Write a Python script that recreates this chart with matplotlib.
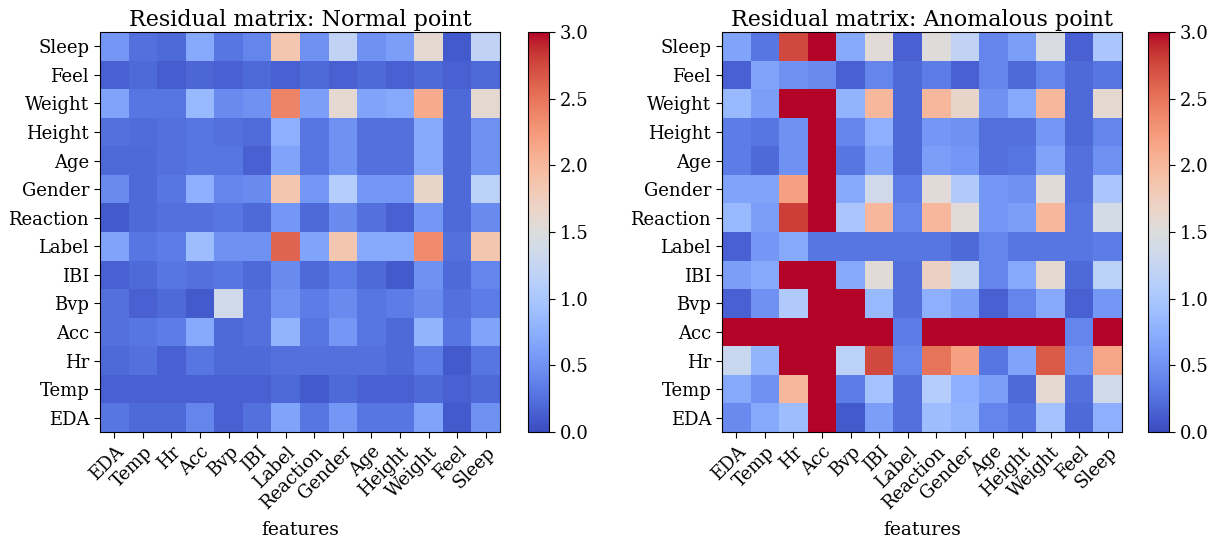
import numpy as np
import matplotlib
matplotlib.use("Agg")
import matplotlib.pyplot as plt

plt.rcParams["font.family"] = "DejaVu Serif"

row_labels = ["Sleep", "Feel", "Weight", "Height", "Age", "Gender", "Reaction",
              "Label", "IBI", "Bvp", "Acc", "Hr", "Temp", "EDA"]
col_labels = ["EDA", "Temp", "Hr", "Acc", "Bvp", "IBI", "Label", "Reaction",
              "Gender", "Age", "Height", "Weight", "Feel", "Sleep"]

normal = np.array([
    [0.55, 0.25, 0.2, 0.7, 0.3, 0.4, 1.85, 0.5, 1.2, 0.5, 0.6, 1.6, 0.1, 1.2],
    [0.15, 0.2, 0.12, 0.18, 0.15, 0.2, 0.15, 0.2, 0.15, 0.2, 0.15, 0.2, 0.15, 0.2],
    [0.65, 0.3, 0.3, 0.85, 0.45, 0.5, 2.4, 0.6, 1.6, 0.65, 0.7, 2.1, 0.2, 1.6],
    [0.25, 0.22, 0.25, 0.3, 0.25, 0.22, 0.75, 0.3, 0.5, 0.25, 0.25, 0.7, 0.2, 0.5],
    [0.2, 0.2, 0.25, 0.3, 0.3, 0.15, 0.65, 0.3, 0.5, 0.25, 0.25, 0.7, 0.2, 0.5],
    [0.45, 0.2, 0.3, 0.75, 0.4, 0.45, 1.85, 0.55, 1.1, 0.55, 0.55, 1.65, 0.2, 1.15],
    [0.1, 0.2, 0.25, 0.25, 0.3, 0.2, 0.55, 0.2, 0.45, 0.25, 0.15, 0.55, 0.2, 0.45],
    [0.65, 0.3, 0.35, 0.9, 0.5, 0.5, 2.6, 0.65, 1.85, 0.7, 0.7, 2.35, 0.25, 1.85],
    [0.15, 0.2, 0.3, 0.25, 0.3, 0.2, 0.45, 0.2, 0.35, 0.2, 0.1, 0.5, 0.2, 0.4],
    [0.25, 0.15, 0.2, 0.1, 1.35, 0.25, 0.5, 0.35, 0.45, 0.3, 0.35, 0.45, 0.25, 0.35],
    [0.25, 0.3, 0.35, 0.7, 0.2, 0.25, 0.8, 0.3, 0.55, 0.3, 0.2, 0.8, 0.3, 0.65],
    [0.2, 0.25, 0.15, 0.3, 0.2, 0.2, 0.25, 0.25, 0.25, 0.25, 0.2, 0.35, 0.1, 0.3],
    [0.15, 0.15, 0.15, 0.15, 0.15, 0.15, 0.2, 0.1, 0.2, 0.15, 0.15, 0.2, 0.15, 0.2],
    [0.3, 0.2, 0.2, 0.4, 0.15, 0.25, 0.65, 0.3, 0.55, 0.3, 0.3, 0.65, 0.1, 0.5],
])

anomalous = np.array([
    [0.65, 0.3, 2.75, 3.0, 0.7, 1.55, 0.15, 1.5, 1.2, 0.4, 0.6, 1.45, 0.15, 1.0],
    [0.15, 0.65, 0.5, 0.45, 0.15, 0.4, 0.2, 0.35, 0.15, 0.4, 0.2, 0.4, 0.2, 0.3],
    [0.85, 0.6, 3.0, 3.0, 0.8, 2.0, 0.2, 2.0, 1.65, 0.5, 0.7, 2.0, 0.2, 1.6],
    [0.35, 0.3, 0.5, 3.0, 0.4, 0.75, 0.2, 0.55, 0.5, 0.25, 0.25, 0.55, 0.2, 0.4],
    [0.35, 0.2, 0.5, 3.0, 0.3, 0.65, 0.2, 0.6, 0.55, 0.25, 0.3, 0.65, 0.25, 0.5],
    [0.65, 0.65, 2.2, 3.0, 0.7, 1.35, 0.35, 1.55, 1.05, 0.55, 0.5, 1.55, 0.25, 1.0],
    [0.85, 0.6, 2.8, 3.0, 1.0, 2.0, 0.4, 2.0, 1.55, 0.55, 0.6, 2.0, 0.3, 1.4],
    [0.15, 0.55, 0.7, 0.3, 0.3, 0.3, 0.3, 0.3, 0.2, 0.4, 0.3, 0.3, 0.3, 0.35],
    [0.6, 0.7, 3.0, 3.0, 0.7, 1.55, 0.25, 1.7, 1.3, 0.4, 0.7, 1.6, 0.2, 1.15],
    [0.15, 0.5, 1.05, 3.0, 3.0, 0.85, 0.25, 0.75, 0.6, 0.15, 0.4, 0.7, 0.15, 0.55],
    [3.0, 3.0, 3.0, 3.0, 3.0, 3.0, 0.35, 3.0, 3.0, 3.0, 3.0, 3.0, 0.4, 3.0],
    [1.3, 0.8, 3.0, 3.0, 1.15, 2.75, 0.4, 2.5, 2.2, 0.3, 0.65, 2.65, 0.5, 2.15],
    [0.7, 0.5, 2.0, 3.0, 0.35, 0.95, 0.25, 1.1, 0.75, 0.6, 0.2, 1.6, 0.25, 1.35],
    [0.45, 0.7, 0.9, 3.0, 0.1, 0.6, 0.25, 0.9, 0.8, 0.4, 0.3, 0.95, 0.2, 0.75],
])

W, H = 1225, 546
fig = plt.figure(figsize=(W / 100, H / 100), dpi=100)


def draw(data, ax_x, cb_x, title):
    ax = fig.add_axes([ax_x / W, (H - 432) / H, 400 / W, 400 / H])
    cax = fig.add_axes([cb_x / W, (H - 432) / H, 21 / W, 400 / H])
    im = ax.imshow(data, cmap="coolwarm", vmin=0, vmax=3, aspect="auto",
                   interpolation="nearest")
    ax.set_xticks(range(len(col_labels)))
    ax.set_xticklabels(col_labels, rotation=45, ha="right",
                       rotation_mode="anchor", fontsize=13)
    ax.set_yticks(range(len(row_labels)))
    ax.set_yticklabels(row_labels, fontsize=13)
    ax.tick_params(length=4.3)
    ax.set_title(title, fontsize=16, pad=4)
    ax.set_xlabel("features", fontsize=13.5, labelpad=6)
    cb = fig.colorbar(im, cax=cax, ticks=[0, 0.5, 1, 1.5, 2, 2.5, 3])
    cb.ax.tick_params(labelsize=13, length=4.3)
    cb.ax.set_yticklabels(["0.0", "0.5", "1.0", "1.5", "2.0", "2.5", "3.0"])


draw(normal, 100, 528, "Residual matrix: Normal point")
draw(anomalous, 722, 1148, "Residual matrix: Anomalous point")

fig.savefig("out.png", dpi=100)
